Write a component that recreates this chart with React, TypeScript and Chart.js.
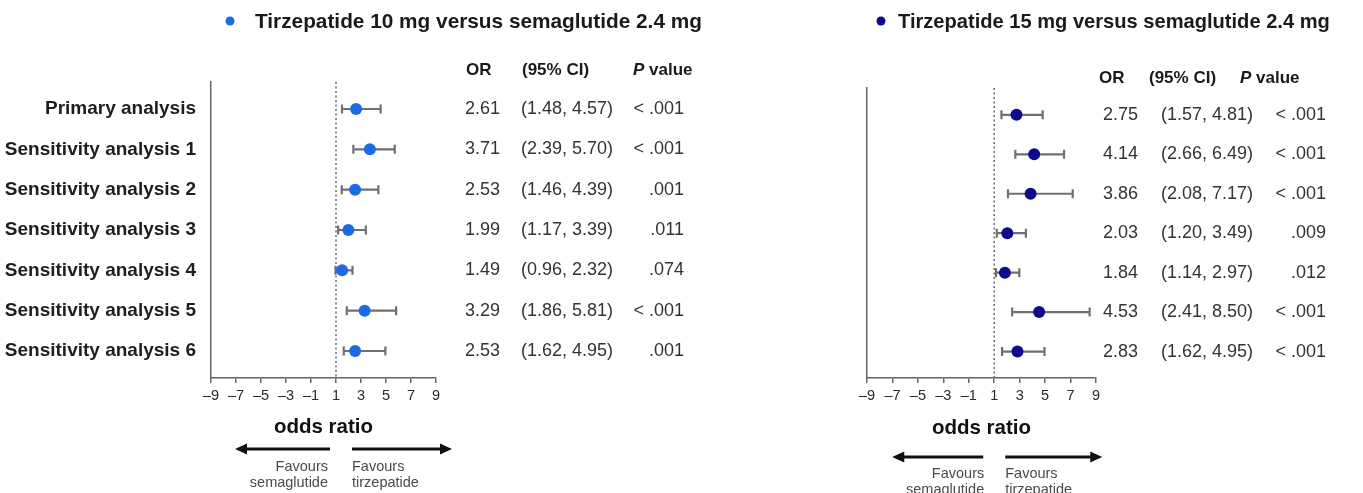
import { useEffect, useRef } from 'react';
import { Chart, registerables } from 'chart.js';

Chart.register(...registerables);

// ---------- data ----------
const analyses = [
  'Primary analysis',
  'Sensitivity analysis 1',
  'Sensitivity analysis 2',
  'Sensitivity analysis 3',
  'Sensitivity analysis 4',
  'Sensitivity analysis 5',
  'Sensitivity analysis 6',
];
const or10 = [2.61, 3.71, 2.53, 1.99, 1.49, 3.29, 2.53];
const lo10 = [1.48, 2.39, 1.46, 1.17, 0.96, 1.86, 1.62];
const hi10 = [4.57, 5.7, 4.39, 3.39, 2.32, 5.81, 4.95];
const p10 = ['< .001', '< .001', '.001', '.011', '.074', '< .001', '.001'];

const or15 = [2.75, 4.14, 3.86, 2.03, 1.84, 4.53, 2.83];
const lo15 = [1.57, 2.66, 2.08, 1.2, 1.14, 2.41, 1.62];
const hi15 = [4.81, 6.49, 7.17, 3.49, 2.97, 8.5, 4.95];
const p15 = ['< .001', '< .001', '< .001', '.009', '.012', '< .001', '< .001'];

const xTicks = [-9, -7, -5, -3, -1, 1, 3, 5, 7, 9];
const nullValue = 1;
const titles = ['Tirzepatide 10 mg versus semaglutide 2.4 mg', 'Tirzepatide 15 mg versus semaglutide 2.4 mg'];
const colHeaderOR = 'OR';
const colHeaderCI = '(95% CI)';
const colHeaderP = ['P', ' value'];
const axisTitle = 'odds ratio';
const favoursLeft = ['Favours', 'semaglutide'];
const favoursRight = ['Favours', 'tirzepatide'];

const FONT = '"Liberation Sans", Arial, Helvetica, sans-serif';
const CANVAS_H = 493;

type Panel = {
  key: string;
  left: number;
  width: number;
  area: { left: number; right: number; top: number; bottom: number };
  yMin: number;
  yMax: number;
  showLabels: boolean;
  color: string;
  title: string;
  titleSize: number;
  titleDotX: number;
  titleX: number;
  titleY: number;
  headerY: number;
  headerOR: number;
  headerCI: number;
  headerP: number;
  orX: number;
  ciX: number;
  pRight: number;
  or: number[];
  lo: number[];
  hi: number[];
  p: string[];
  axisTitleY: number;
  arrowY: number;
  arrowL: [number, number];
  arrowR: [number, number];
  favY: [number, number];
  favL: number;
  favR: number;
};

const panels: Panel[] = [
  {
    key: 'p10',
    left: 0,
    width: 720,
    area: { left: 211, right: 436, top: 82, bottom: 378 },
    yMin: -0.67,
    yMax: 6.67,
    showLabels: true,
    color: '#1d6ae5',
    title: titles[0],
    titleSize: 20.8,
    titleDotX: 230,
    titleX: 255,
    titleY: 22,
    headerY: 70,
    headerOR: 466,
    headerCI: 522,
    headerP: 633,
    orX: 465,
    ciX: 521,
    pRight: 684,
    or: or10,
    lo: lo10,
    hi: hi10,
    p: p10,
    axisTitleY: 427,
    arrowY: 449,
    arrowL: [-6, -101],
    arrowR: [16, 116],
    favY: [467, 483],
    favL: -8,
    favR: 16,
  },
  {
    key: 'p15',
    left: 720,
    width: 643,
    area: { left: 867, right: 1096, top: 88, bottom: 378 },
    yMin: -0.68,
    yMax: 6.67,
    showLabels: false,
    color: '#0b0b8c',
    title: titles[1],
    titleSize: 20.1,
    titleDotX: 881,
    titleX: 898,
    titleY: 22,
    headerY: 78,
    headerOR: 1099,
    headerCI: 1149,
    headerP: 1240,
    orX: 1103,
    ciX: 1161,
    pRight: 1326,
    or: or15,
    lo: lo15,
    hi: hi15,
    p: p15,
    axisTitleY: 428,
    arrowY: 457,
    arrowL: [-11, -102],
    arrowR: [11, 108],
    favY: [474, 490],
    favL: -10,
    favR: 11,
  },
];

function fmt(v: number) {
  return v.toFixed(2);
}

function drawArrow(ctx: CanvasRenderingContext2D, from: number, to: number, y: number) {
  const dir = Math.sign(to - from);
  const head = 12;
  ctx.beginPath();
  ctx.moveTo(from, y);
  ctx.lineTo(to - dir * head + dir * 1, y);
  ctx.stroke();
  ctx.beginPath();
  ctx.moveTo(to, y);
  ctx.lineTo(to - dir * head, y - 5.5);
  ctx.lineTo(to - dir * head, y + 5.5);
  ctx.closePath();
  ctx.fill();
}

function buildChart(canvas: HTMLCanvasElement, pn: Panel) {
  const off = pn.left;
  const areaL = pn.area.left - off;
  const areaR = pn.area.right - off;

  const overlay = {
    id: 'forest-' + pn.key,
    beforeDatasetsDraw(chart: any) {
      const { ctx, chartArea, scales } = chart;
      const x = scales.x;
      const y = scales.y;
      ctx.save();
      const nx = x.getPixelForValue(nullValue);
      ctx.strokeStyle = '#6a6a6a';
      ctx.lineWidth = 1.5;
      ctx.setLineDash([2, 2.5]);
      ctx.beginPath();
      ctx.moveTo(nx, chartArea.top);
      ctx.lineTo(nx, chartArea.bottom);
      ctx.stroke();
      ctx.setLineDash([]);
      ctx.strokeStyle = '#707070';
      ctx.lineWidth = 2.2;
      pn.or.forEach((_, i) => {
        const py = y.getPixelForValue(i);
        const a = x.getPixelForValue(pn.lo[i]);
        const b = x.getPixelForValue(pn.hi[i]);
        ctx.beginPath();
        ctx.moveTo(a, py);
        ctx.lineTo(b, py);
        ctx.moveTo(a, py - 4.5);
        ctx.lineTo(a, py + 4.5);
        ctx.moveTo(b, py - 4.5);
        ctx.lineTo(b, py + 4.5);
        ctx.stroke();
      });
      ctx.restore();
    },
    afterDraw(chart: any) {
      const { ctx, scales } = chart;
      const x = scales.x;
      const y = scales.y;
      ctx.save();
      // title
      ctx.fillStyle = pn.color;
      ctx.beginPath();
      ctx.arc(pn.titleDotX - off, pn.titleY - 1, 4.5, 0, Math.PI * 2);
      ctx.fill();
      ctx.fillStyle = '#1a1a1a';
      ctx.font = `bold ${pn.titleSize}px ${FONT}`;
      ctx.textBaseline = 'middle';
      ctx.textAlign = 'left';
      ctx.fillText(pn.title, pn.titleX - off, pn.titleY);

      // column headers
      ctx.font = `bold 17px ${FONT}`;
      ctx.fillText(colHeaderOR, pn.headerOR - off, pn.headerY);
      ctx.fillText(colHeaderCI, pn.headerCI - off, pn.headerY);
      ctx.font = `italic bold 17px ${FONT}`;
      ctx.fillText(colHeaderP[0], pn.headerP - off, pn.headerY);
      const pw = ctx.measureText(colHeaderP[0]).width;
      ctx.font = `bold 17px ${FONT}`;
      ctx.fillText(colHeaderP[1], pn.headerP - off + pw, pn.headerY);

      // values
      ctx.font = `18px ${FONT}`;
      ctx.fillStyle = '#333';
      pn.or.forEach((v, i) => {
        const py = y.getPixelForValue(i);
        ctx.textAlign = 'left';
        ctx.fillText(fmt(v), pn.orX - off, py);
        ctx.fillText(`(${fmt(pn.lo[i])}, ${fmt(pn.hi[i])})`, pn.ciX - off, py);
        ctx.textAlign = 'right';
        ctx.fillText(pn.p[i], pn.pRight - off, py);
      });

      // arrows
      const nx = x.getPixelForValue(nullValue);
      ctx.strokeStyle = '#111';
      ctx.fillStyle = '#111';
      ctx.lineWidth = 3;
      drawArrow(ctx, nx + pn.arrowL[0], nx + pn.arrowL[1], pn.arrowY);
      drawArrow(ctx, nx + pn.arrowR[0], nx + pn.arrowR[1], pn.arrowY);

      // favours
      ctx.font = `14.5px ${FONT}`;
      ctx.fillStyle = '#4a4a4a';
      ctx.textAlign = 'right';
      ctx.fillText(favoursLeft[0], nx + pn.favL, pn.favY[0]);
      ctx.fillText(favoursLeft[1], nx + pn.favL, pn.favY[1]);
      ctx.textAlign = 'left';
      ctx.fillText(favoursRight[0], nx + pn.favR, pn.favY[0]);
      ctx.fillText(favoursRight[1], nx + pn.favR, pn.favY[1]);
      ctx.restore();
    },
  };

  const xAxisHeight = CANVAS_H - pn.area.bottom;
  const axisTitleFont = 20.5;
  const axisTitlePad = CANVAS_H - pn.axisTitleY - (axisTitleFont * 1.2) / 2;

  return new Chart(canvas, {
    type: 'scatter',
    data: {
      datasets: [
        {
          label: pn.title,
          data: pn.or.map((v, i) => ({ x: v, y: i })),
          backgroundColor: pn.color,
          borderColor: pn.color,
          borderWidth: 0,
          pointRadius: 6,
          pointHoverRadius: 6,
        },
      ],
    },
    options: {
      responsive: false,
      animation: false,
      events: [],
      layout: {
        padding: { left: 0, top: pn.area.top, right: pn.width - areaR, bottom: 0 },
      },
      plugins: {
        legend: { display: false },
        tooltip: { enabled: false },
        title: { display: false },
      },
      scales: {
        x: {
          type: 'linear',
          min: -9,
          max: 9,
          afterBuildTicks: (s: any) => {
            s.ticks = xTicks.map((v) => ({ value: v }));
          },
          afterFit: (s: any) => {
            s.height = xAxisHeight;
          },
          ticks: {
            autoSkip: false,
            maxRotation: 0,
            padding: 4,
            color: '#2a2a2a',
            font: { family: FONT, size: 14.5 },
            callback: (v: any) => (Number(v) < 0 ? '\u2013' + Math.abs(Number(v)) : String(v)),
          },
          grid: {
            drawOnChartArea: false,
            drawTicks: true,
            tickLength: 5,
            color: '#666',
            lineWidth: 1.5,
          },
          border: { display: true, color: '#666', width: 1.5 },
          title: {
            display: true,
            text: axisTitle,
            color: '#111',
            font: { family: FONT, size: axisTitleFont, weight: 'bold' },
            padding: { top: 0, bottom: axisTitlePad },
          },
        },
        y: {
          type: 'linear',
          reverse: true,
          min: pn.yMin,
          max: pn.yMax,
          afterBuildTicks: (s: any) => {
            s.ticks = analyses.map((_, i) => ({ value: i }));
          },
          afterFit: (s: any) => {
            s.width = areaL;
          },
          ticks: {
            display: pn.showLabels,
            autoSkip: false,
            padding: 15,
            color: '#1e1e1e',
            font: { family: FONT, size: 19, weight: 'bold' },
            callback: (v: any) => analyses[Number(v)] ?? '',
          },
          grid: { display: false, drawTicks: false },
          border: { display: true, color: '#666', width: 1.5 },
        },
      },
    },
    plugins: [overlay],
  } as any);
}

function ForestPanel({ pn }: { pn: Panel }) {
  const ref = useRef<HTMLCanvasElement | null>(null);
  useEffect(() => {
    if (!ref.current) return;
    const chart = buildChart(ref.current, pn);
    return () => chart.destroy();
  }, [pn]);
  return (
    <canvas
      ref={ref}
      width={pn.width}
      height={CANVAS_H}
      style={{ position: 'absolute', left: pn.left, top: 0, width: pn.width, height: CANVAS_H }}
    />
  );
}

export default function App() {
  return (
    <div style={{ position: 'absolute', left: 0, top: 0, width: 1363, height: CANVAS_H, background: '#fff', overflow: 'hidden' }}>
      {panels.map((pn) => (
        <ForestPanel key={pn.key} pn={pn} />
      ))}
    </div>
  );
}
